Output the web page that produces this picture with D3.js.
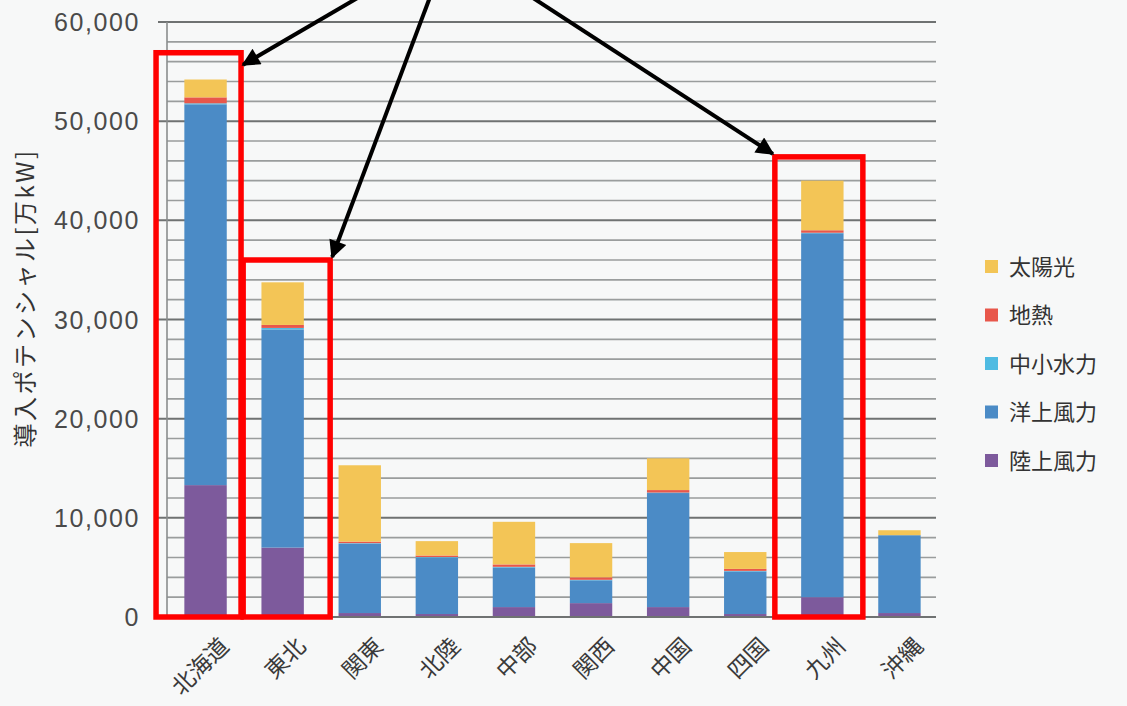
<!DOCTYPE html>
<html lang="ja">
<head>
<meta charset="utf-8">
<script src="https://cdn.jsdelivr.net/npm/d3@7/dist/d3.min.js"></script>
<style>
  html, body { margin: 0; padding: 0; background: #f7f8f8; }
  svg { display: block; }
</style>
</head>
<body>
<svg id="chart" width="1127" height="706"></svg>
<script>
// 地域別の再生可能エネルギー導入ポテンシャル（単位：万kW）
const regions = ["北海道", "東北", "関東", "北陸", "中部", "関西", "中国", "四国", "九州", "沖縄"];
const seriesNames = ["陸上風力", "洋上風力", "中小水力", "地熱", "太陽光"];
const onshoreWind  = [13300,  7000,  400,  300, 1000, 1400,  1000,  300,  2000,  400];
const offshoreWind = [38400, 22000, 7000, 5700, 4000, 2300, 11500, 4300, 36700, 7850];
const smallHydro   = [  100,   150,   50,   50,   60,   50,    50,   50,    50,    0];
const geothermal   = [  600,   300,  150,  150,  240,  250,   250,  200,   250,    0];
const solar        = [ 1800,  4300, 7700, 1450, 4300, 3450,  3200, 1700,  5000,  500];
const yTicks = [0, 10000, 20000, 30000, 40000, 50000, 60000];
const legendOrder = ["太陽光", "地熱", "中小水力", "洋上風力", "陸上風力"];
const seriesColors = {
  "陸上風力": "#7d5a9c",
  "洋上風力": "#4b8bc6",
  "中小水力": "#4fbbe2",
  "地熱": "#e8574b",
  "太陽光": "#f3c556"
};
// 強調枠：対象地域と枠の上端（万kW）
const highlightRegions = ["北海道", "東北", "九州"];
const highlightTops = [56900, 36000, 46400];

const svg = d3.select("#chart");
const plot = { left: 167, right: 938, top: 22, bottom: 617 };

const x = d3.scaleBand().domain(regions).range([plot.left, plot.right])
  .paddingInner(0.45).paddingOuter(0.225);
const y = d3.scaleLinear().domain([0, 60000]).range([plot.bottom, plot.top]);

const table = regions.map((r, i) => ({
  region: r,
  "陸上風力": onshoreWind[i],
  "洋上風力": offshoreWind[i],
  "中小水力": smallHydro[i],
  "地熱": geothermal[i],
  "太陽光": solar[i]
}));
const stacked = d3.stack().keys(seriesNames)(table);

// 補助目盛線（2,000ごと）と主目盛線
const gridVals = d3.range(2000, 60001, 2000);
svg.append("g").selectAll("line").data(gridVals).join("line")
  .attr("x1", d => d % 10000 === 0 ? plot.left - 9 : plot.left)
  .attr("x2", plot.right - 2)
  .attr("y1", d => y(d)).attr("y2", d => y(d))
  .attr("stroke", d => d % 10000 === 0 ? "#6f7272" : "#9a9d9d")
  .attr("stroke-width", d => d % 10000 === 0 ? 2 : 1.6);

// 縦軸
svg.append("line")
  .attr("x1", plot.left).attr("x2", plot.left)
  .attr("y1", plot.top).attr("y2", plot.bottom)
  .attr("stroke", "#8a8d8d").attr("stroke-width", 1.6);

// 積み上げ棒
svg.append("g").selectAll("g").data(stacked).join("g")
  .attr("fill", d => seriesColors[d.key])
  .selectAll("rect").data(d => d).join("rect")
  .attr("x", d => x(d.data.region))
  .attr("width", x.bandwidth())
  .attr("y", d => y(d[1]))
  .attr("height", d => Math.max(0, y(d[0]) - y(d[1])));

// 横軸
svg.append("line")
  .attr("x1", plot.left - 9).attr("x2", plot.right - 2)
  .attr("y1", y(0)).attr("y2", y(0))
  .attr("stroke", "#6f7272").attr("stroke-width", 2);

// 縦軸目盛ラベル
const fmt = d3.format(",");
svg.append("g").selectAll("text").data(yTicks).join("text")
  .attr("x", 140).attr("y", d => y(d))
  .attr("dy", "0.36em")
  .attr("text-anchor", "end")
  .attr("font-family", "'Liberation Sans', Arial, sans-serif")
  .attr("font-size", 25)
  .attr("letter-spacing", 1.6)
  .attr("fill", "#4a4a4a")
  .text(d => fmt(d));

// 縦軸タイトル
svg.append("text")
  .attr("transform", "translate(26,298) rotate(-90)")
  .attr("text-anchor", "middle")
  .attr("dy", "0.35em")
  .attr("font-family", "'Noto Sans CJK JP', sans-serif")
  .attr("font-size", 24)
  .attr("letter-spacing", 2.5)
  .attr("fill", "#333")
  .text("導入ポテンシャル[万kW]");

// 地域名ラベル（45°回転）
svg.append("g").selectAll("text").data(regions).join("text")
  .attr("transform", d => `translate(${x(d) + x.bandwidth() / 2 + 19},${plot.bottom + 25}) rotate(-45)`)
  .attr("text-anchor", "end")
  .attr("dy", "0.35em")
  .attr("font-family", "'Noto Sans CJK JP', sans-serif")
  .attr("font-size", 23)
  .attr("fill", "#3a3a3a")
  .text(d => d);

// 凡例
const legend = svg.append("g").selectAll("g").data(legendOrder).join("g")
  .attr("transform", (d, i) => `translate(985,${267 + i * 48.5})`);
legend.append("rect")
  .attr("x", 0).attr("y", -7).attr("width", 13).attr("height", 13)
  .attr("fill", d => seriesColors[d]);
legend.append("text")
  .attr("x", 24).attr("dy", "0.35em")
  .attr("font-family", "'Noto Sans CJK JP', sans-serif")
  .attr("font-size", 22)
  .attr("fill", "#333")
  .text(d => d);

// 強調枠
const boxOffsets = { "北海道": [-49.5, 35.5], "東北": [-39.5, 47.5], "九州": [-47.5, 40.5] };
const boxes = highlightRegions.map((r, i) => {
  const c = x(r) + x.bandwidth() / 2;
  return { x0: c + boxOffsets[r][0], x1: c + boxOffsets[r][1], top: y(highlightTops[i]) };
});
svg.append("g").selectAll("rect").data(boxes).join("rect")
  .attr("x", d => d.x0).attr("y", d => d.top)
  .attr("width", d => d.x1 - d.x0)
  .attr("height", d => y(0) - d.top)
  .attr("fill", "none")
  .attr("stroke", "#ff0000")
  .attr("stroke-width", 5.5);

// 矢印（枠の角を指す）
const defs = svg.append("defs");
defs.append("marker")
  .attr("id", "arrowhead")
  .attr("viewBox", "0 0 10 10")
  .attr("refX", 9).attr("refY", 5)
  .attr("markerWidth", 5.5).attr("markerHeight", 4.5)
  .attr("markerUnits", "strokeWidth")
  .attr("orient", "auto")
  .append("path").attr("d", "M0,0 L10,5 L0,10 Z").attr("fill", "#000");

const origin = [450, -56];
const tips = [
  [boxes[0].x1 + 2, boxes[0].top + 12],
  [boxes[1].x1 + 2, boxes[1].top - 3],
  [boxes[2].x0 - 2, boxes[2].top - 3]
];
svg.append("g").selectAll("line").data(tips).join("line")
  .attr("x1", origin[0]).attr("y1", origin[1])
  .attr("x2", d => d[0]).attr("y2", d => d[1])
  .attr("stroke", "#000").attr("stroke-width", 4)
  .attr("marker-end", "url(#arrowhead)");
</script>
</body>
</html>
